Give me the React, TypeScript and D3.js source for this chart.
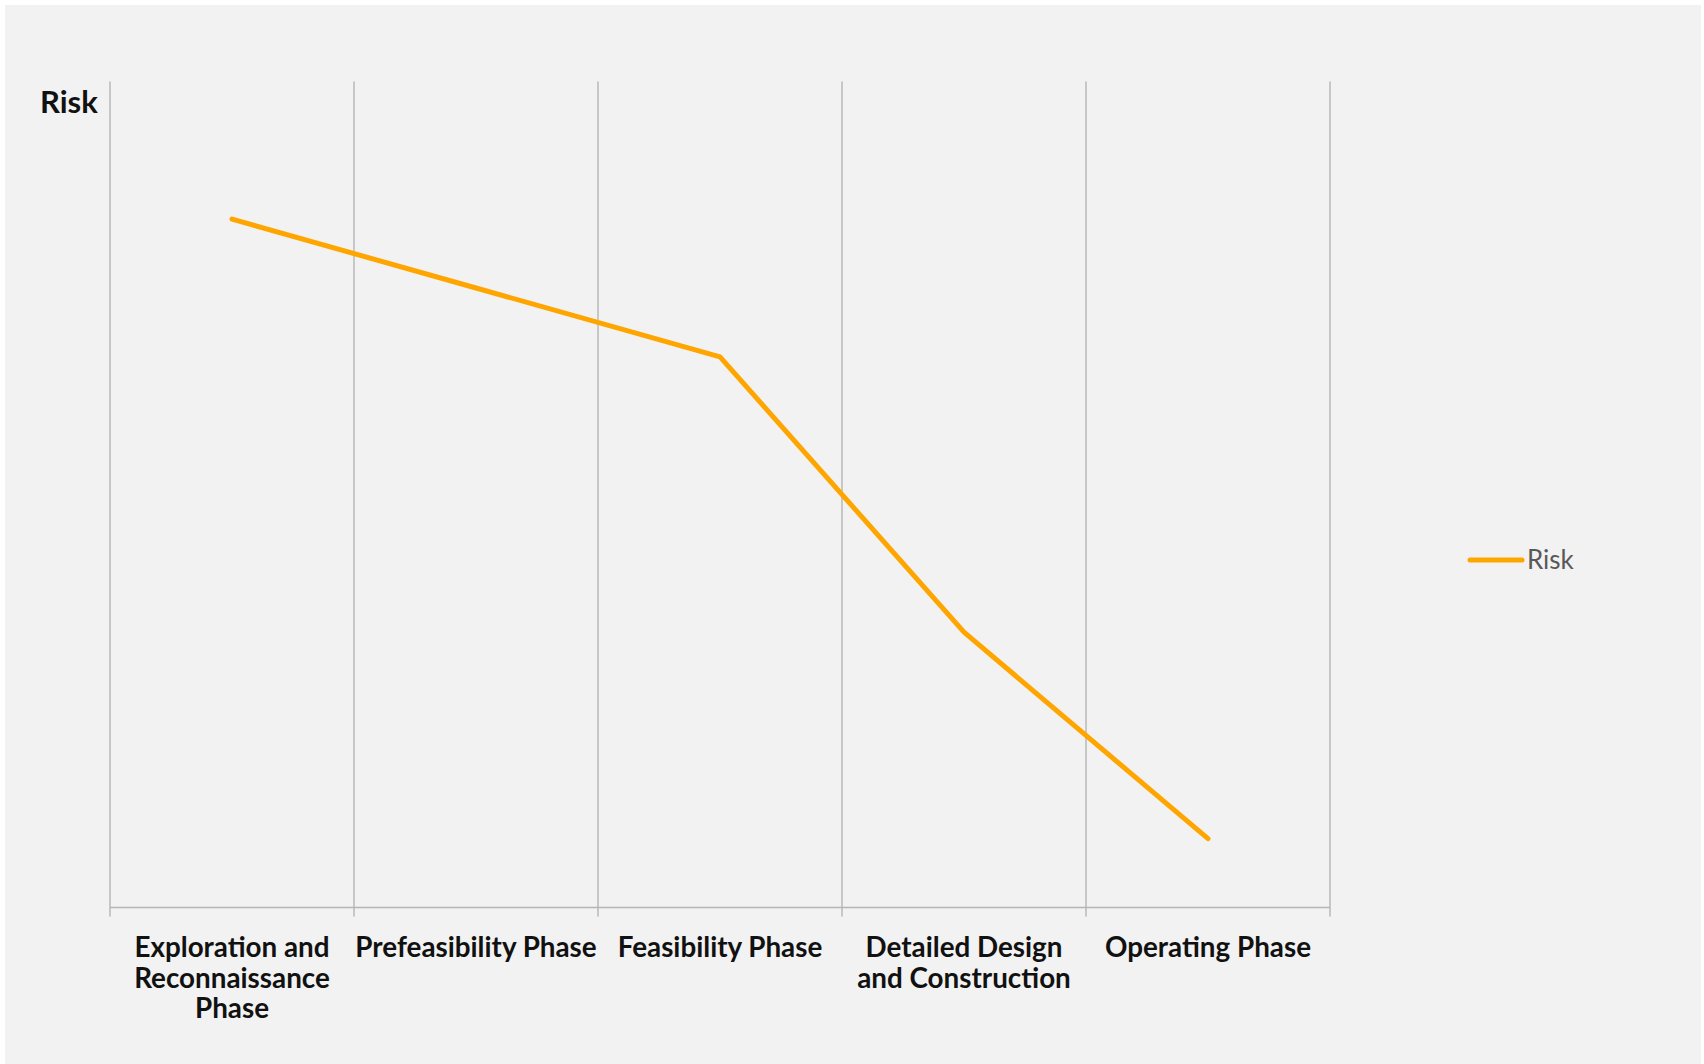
import React from "react";
import * as d3 from "d3";

// Project phases along the x axis (label lines split for wrapping)
const phases: string[] = [
  "Exploration and Reconnaissance Phase",
  "Prefeasibility Phase",
  "Feasibility Phase",
  "Detailed Design and Construction",
  "Operating Phase",
];
const phaseLabelLines: string[][] = [
  ["Exploration and", "Reconnaissance", "Phase"],
  ["Prefeasibility Phase"],
  ["Feasibility Phase"],
  ["Detailed Design", "and Construction"],
  ["Operating Phase"],
];
// Relative risk level per phase
const riskValues: number[] = [10, 9, 8, 4, 1];
const seriesName = "Risk";
const yMax = 12;

const W = 1704;
const H = 1064;
const margin = { left: 110, right: 1330, top: 81.5, bottom: 907.5 };

const FONT = "Lato, 'Open Sans', sans-serif";

export default function App() {
  const x = d3
    .scaleBand<string>()
    .domain(phases)
    .range([margin.left, margin.right])
    .paddingInner(0)
    .paddingOuter(0);
  const y = d3.scaleLinear().domain([0, yMax]).range([margin.bottom, margin.top]);

  const points: [number, number][] = phases.map((p, i) => [
    (x(p) as number) + x.bandwidth() / 2,
    y(riskValues[i]),
  ]);
  const line = d3.line<[number, number]>().x((d) => d[0]).y((d) => d[1]);

  // gridline positions: band boundaries
  const bounds = phases.map((p) => x(p) as number).concat([margin.right]);

  return (
    <svg
      width={W}
      height={H}
      style={{ position: "absolute", left: 0, top: 0, display: "block" }}
    >
      <rect x={0} y={0} width={W} height={H} fill="#ffffff" />
      <rect x={5} y={5} width={1696} height={H - 5} fill="#f2f2f2" />

      {/* vertical gridlines at category boundaries */}
      {bounds.map((bx, i) => (
        <line
          key={"g" + i}
          x1={bx}
          x2={bx}
          y1={margin.top}
          y2={margin.bottom + 9}
          stroke="#b5b5b5"
          strokeWidth={1.4}
        />
      ))}
      {/* category axis */}
      <line
        x1={margin.left}
        x2={margin.right}
        y1={margin.bottom}
        y2={margin.bottom}
        stroke="#b5b5b5"
        strokeWidth={1.6}
      />

      {/* category labels */}
      {phases.map((p, i) => (
        <text
          key={"l" + i}
          x={(x(p) as number) + x.bandwidth() / 2}
          y={957}
          textAnchor="middle"
          fontFamily={FONT}
          fontWeight={700}
          fontSize={27.8}
          fill="#111111"
        >
          {phaseLabelLines[i].map((ln, j) => (
            <tspan key={j} x={(x(p) as number) + x.bandwidth() / 2} dy={j === 0 ? 0 : 30.6}>
              {ln}
            </tspan>
          ))}
        </text>
      ))}

      {/* axis title */}
      <text
        x={40}
        y={113}
        fontFamily={FONT}
        fontWeight={700}
        fontSize={31}
        fill="#111111"
      >
        {seriesName}
      </text>

      {/* risk line */}
      <path
        d={line(points) || ""}
        fill="none"
        stroke="#ffa500"
        strokeWidth={5}
        strokeLinejoin="round"
        strokeLinecap="round"
      />

      {/* legend */}
      <g transform="translate(1470,560)">
        <line x1={0} x2={52} y1={0} y2={0} stroke="#ffa500" strokeWidth={5} strokeLinecap="round" />
        <text x={57} y={9} fontFamily={FONT} fontSize={26} fill="#595959">
          {seriesName}
        </text>
      </g>
    </svg>
  );
}
